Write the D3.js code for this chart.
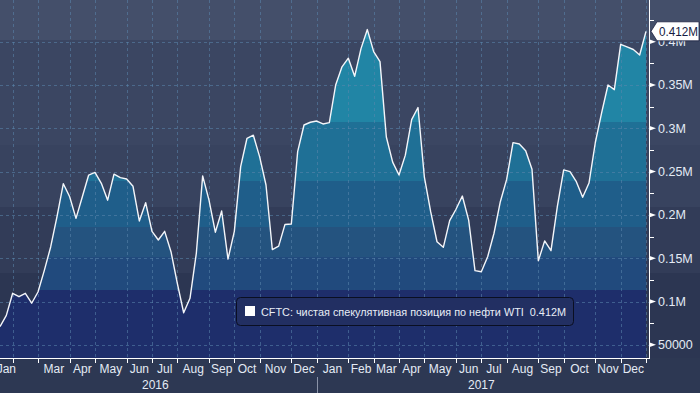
<!DOCTYPE html>
<html><head><meta charset="utf-8">
<script src="https://cdn.jsdelivr.net/npm/d3@7"></script>
<style>
body{margin:0;background:#2d3853;}
svg{display:block;font-family:"Liberation Sans",Arial,sans-serif;}
</style>
</head><body>
<svg id="c" width="700" height="393"></svg>
<script>
// ---------- data ----------
const firstWeek = "2016-01-19";           // weekly CFTC report dates (Tuesdays)
const netPosition = [
  71000, 84000, 109500, 105500, 109500, 98000, 111000, 136000, 163000, 198000,
  236000, 221000, 196000, 221000, 246000, 249000, 236500, 217000, 247000, 243000,
  241500, 233000, 193000, 214000, 181000, 171000, 181000, 157500, 121000, 87000,
  103700, 155700, 245000, 217000, 180000, 204500, 149000, 181000, 255700, 288500,
  292000, 267000, 234500, 160000, 164000, 189000, 189500, 273000, 303800, 307000,
  308400, 305000, 306500, 350000, 371000, 381000, 360000, 392000, 414000, 388500,
  377000, 290000, 261000, 246000, 269000, 310000, 324000, 244000, 203700, 169000,
  162600, 193300, 206500, 221800, 194000, 135600, 134400, 151700, 178800, 215200,
  241000, 283400, 281900, 274000, 252700, 147000, 170000, 158700, 209500, 252000,
  250000, 238300, 220300, 236800, 283600, 318000, 350000, 344600, 397000, 394000,
  391000, 384600, 412000
];
const yTickValues = [50000, 100000, 150000, 200000, 250000, 300000, 350000, 400000];
const yTickLabels = ["50000", "0.1M", "0.15M", "0.2M", "0.25M", "0.3M", "0.35M", "0.4M"];
const monthLabels = ["Jan","","Mar","Apr","May","Jun","Jul","Aug","Sep","Oct","Nov","Dec",
                     "Jan","Feb","Mar","Apr","May","Jun","Jul","Aug","Sep","Oct","Nov","Dec"];
const yearLabels = ["2016", "2017"];
const seriesName = "CFTC: чистая спекулятивная позиция по нефти WTI";
const lastValueLabel = "0.412M";

// ---------- layout / style ----------
const W = 700, H = 393, plotRight = 646, axisX = 649, axisY = 358;
const dates = netPosition.map((_, i) => d3.timeDay.offset(new Date(firstWeek + "T00:00:00"), 7 * i));

const x = d3.scaleTime().domain([dates[0], dates[dates.length - 1]]).range([0, plotRight]);
const y = d3.scaleLinear().domain([34760, 448150]).range([axisY, 0]);

const svg = d3.select("#c");
const defs = svg.append("defs");

// background bands (whole image)
const bgBands = [
  [0, 40, "#444f6a"], [40, 145, "#3b4662"], [145, 207, "#38435f"],
  [207, 273, "#323c58"], [273, 358, "#2c3652"], [358, 393, "#2d3853"]
];
svg.selectAll("rect.bg").data(bgBands).join("rect")
  .attr("x", 0).attr("width", W).attr("y", d => d[0]).attr("height", d => d[1] - d[0])
  .attr("fill", d => d[2]);

// stepped gradient for the area
const areaSteps = [
  [0, "#1e2e6b"], [113300, "#214a7d"], [151400, "#24537f"], [186000, "#1f5e8a"],
  [239150, "#1f7096"], [307300, "#2185a5"], [403100, "#2a90b0"]
];
const grad = defs.append("linearGradient").attr("id", "ag")
  .attr("gradientUnits", "userSpaceOnUse")
  .attr("x1", 0).attr("x2", 0).attr("y1", axisY).attr("y2", 0);
const y0px = axisY;
areaSteps.forEach((s, i) => {
  const from = i === 0 ? 0 : (y0px - y(s[0])) / y0px;
  const to = i === areaSteps.length - 1 ? 1 : (y0px - y(areaSteps[i + 1][0])) / y0px;
  grad.append("stop").attr("offset", Math.max(0, from)).attr("stop-color", s[1]);
  grad.append("stop").attr("offset", Math.min(1, to)).attr("stop-color", s[1]);
});

defs.append("clipPath").attr("id", "pc").append("rect")
  .attr("x", 0).attr("y", 0).attr("width", axisX).attr("height", axisY);

const plot = svg.append("g").attr("clip-path", "url(#pc)");

const area = d3.area().x((d, i) => x(dates[i])).y0(axisY).y1(d => y(d));
plot.append("path").datum(netPosition).attr("d", area).attr("fill", "url(#ag)");

// month boundaries: first report date in each month
const monthStarts = [];
dates.forEach((d, i) => {
  if (i > 0 && d.getMonth() !== dates[i - 1].getMonth()) monthStarts.push(d);
});

// grid
plot.selectAll("line.hg").data(yTickValues).join("line")
  .attr("x1", 0).attr("x2", axisX).attr("y1", d => Math.round(y(d)) + 0.5).attr("y2", d => Math.round(y(d)) + 0.5)
  .attr("stroke", "#5b86ad").attr("stroke-opacity", 0.55).attr("stroke-dasharray", "3,3");
plot.selectAll("line.vg").data(monthStarts).join("line")
  .attr("x1", d => Math.round(x(d)) + 0.5).attr("x2", d => Math.round(x(d)) + 0.5)
  .attr("y1", 0).attr("y2", axisY)
  .attr("stroke", "#5b86ad").attr("stroke-opacity", 0.55).attr("stroke-dasharray", "3,3");

// line
const line = d3.line().x((d, i) => x(dates[i])).y(d => y(d));
plot.append("path").datum(netPosition).attr("d", line)
  .attr("fill", "none").attr("stroke", "#f4f6fa").attr("stroke-width", 1.4).attr("stroke-linejoin", "round");

// x axis
svg.append("line").attr("x1", 0).attr("x2", axisX + 0.5).attr("y1", axisY + 0.5).attr("y2", axisY + 0.5)
  .attr("stroke", "#ffffff").attr("stroke-width", 1);
svg.selectAll("line.xt").data(monthStarts).join("line")
  .attr("x1", d => Math.round(x(d)) + 0.5).attr("x2", d => Math.round(x(d)) + 0.5)
  .attr("y1", axisY).attr("y2", axisY + 5).attr("stroke", "#ffffff");

const bounds = [0, ...monthStarts.map(d => x(d)), plotRight];
const monthCenters = [];
for (let i = 0; i < bounds.length - 1; i++) {
  if (bounds[i + 1] - bounds[i] > 1) monthCenters.push((bounds[i] + bounds[i + 1]) / 2);
}
svg.selectAll("text.m").data(monthLabels).join("text")
  .attr("x", (d, i) => monthCenters[i]).attr("y", 373)
  .attr("text-anchor", "middle").attr("font-size", 12).attr("fill", "#e4ebf5")
  .text(d => d);

const yearStart = monthStarts.find(d => d.getFullYear() === 2017 && d.getMonth() === 0);
const yearBounds = [-6, x(yearStart), plotRight];
svg.selectAll("text.yr").data(yearLabels).join("text")
  .attr("x", (d, i) => (yearBounds[i] + yearBounds[i + 1]) / 2).attr("y", 389)
  .attr("text-anchor", "middle").attr("font-size", 12).attr("fill", "#e4ebf5")
  .text(d => d);
svg.append("line").attr("x1", Math.round(x(yearStart)) + 0.5).attr("x2", Math.round(x(yearStart)) + 0.5)
  .attr("y1", 377).attr("y2", 393).attr("stroke", "#8a93a8");

// right axis
svg.append("line").attr("x1", axisX + 0.5).attr("x2", axisX + 0.5).attr("y1", 0).attr("y2", axisY + 1)
  .attr("stroke", "#ffffff");
const minorTicks = d3.range(75000, 450000, 50000);
svg.selectAll("line.mt").data(minorTicks).join("line")
  .attr("x1", axisX).attr("x2", axisX + 5)
  .attr("y1", d => Math.round(y(d)) + 0.5).attr("y2", d => Math.round(y(d)) + 0.5)
  .attr("stroke", "#ffffff");
svg.selectAll("path.tk").data(yTickValues).join("path")
  .attr("d", d => { const t = y(d); return `M${axisX},${t - 2.5}L${axisX + 7},${t}L${axisX},${t + 2.5}Z`; })
  .attr("fill", "#ffffff");
svg.selectAll("text.yl").data(yTickLabels).join("text")
  .attr("x", axisX + 9).attr("y", (d, i) => y(yTickValues[i]) + 4.5)
  .attr("font-size", 12.5).attr("fill", "#e4ebf5").text(d => d);

// last value callout
const lv = netPosition[netPosition.length - 1];
const ly = y(lv);
svg.append("path")
  .attr("d", `M${axisX + 2},${ly}L${axisX + 8},${ly - 9.5}L${W - 1},${ly - 9.5}L${W - 1},${ly + 9.5}L${axisX + 8},${ly + 9.5}Z`)
  .attr("fill", "#ffffff").attr("stroke", "#1b2040").attr("stroke-width", 0.8);
svg.append("text").attr("x", axisX + 10).attr("y", ly + 4.5)
  .attr("font-size", 12.5).attr("textLength", 39).attr("lengthAdjust", "spacingAndGlyphs")
  .attr("fill", "#161b42").text(lastValueLabel);

// legend
const lg = svg.append("g");
lg.append("rect").attr("x", 236.5).attr("y", 297.5).attr("width", 337).attr("height", 28).attr("rx", 4)
  .attr("fill", "#222f62").attr("stroke", "#0a0f22").attr("stroke-width", 1);
lg.append("rect").attr("x", 245).attr("y", 306).attr("width", 10).attr("height", 10).attr("fill", "#ffffff");
lg.append("text").attr("x", 261).attr("y", 316).attr("font-size", 11.5)
  .attr("textLength", 305).attr("lengthAdjust", "spacingAndGlyphs").attr("fill", "#e8edf6")
  .text(seriesName + "\u00a0\u00a0" + lastValueLabel);
</script>
</body></html>
